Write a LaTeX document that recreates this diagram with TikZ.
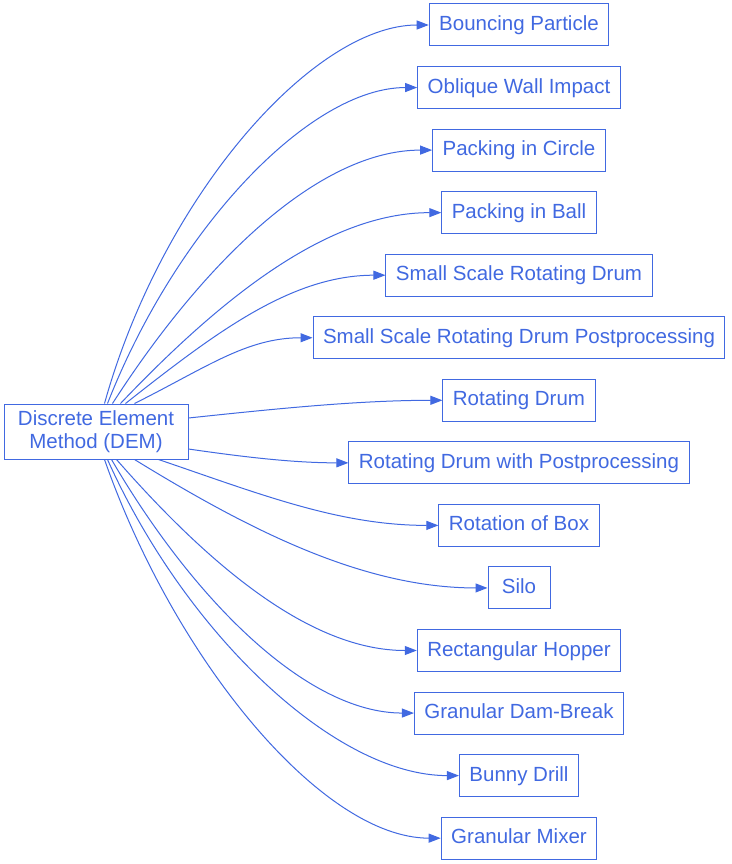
\documentclass[tikz,border=0pt]{standalone}
\usepackage{fontspec}
\setmainfont{Liberation Sans}
\usetikzlibrary{arrows.meta}
\definecolor{rb}{RGB}{65,105,225}
\begin{document}
\begin{tikzpicture}[x=1pt,y=-1pt,
  box/.style={draw=rb, text=rb, line width=1pt, rectangle, inner xsep=10pt, inner ysep=0pt,
    minimum height=42pt, minimum width=62pt, text height=15pt, text depth=4pt,
    font=\fontsize{20.5}{22.5}\selectfont},
  srcbox/.style={draw=rb, text=rb, line width=1pt, rectangle, inner sep=0pt,
    minimum width=184pt, minimum height=55pt, align=center,
    font=\fontsize{20.5}{22.5}\selectfont},
  edge/.style={draw=rb, line width=1pt, -{Triangle[length=12pt,width=9pt]}}]
\fill[white] (0,0) rectangle (731,864);
\useasboundingbox (0,0) rectangle (731,864);

\node[srcbox] (dem) at (96,431.5) {Discrete Element\\Method (DEM)};

\node[box] (t1)  at (519,25)     {Bouncing Particle};
\node[box] (t2)  at (519,87.55)  {Oblique Wall Impact};
\node[box] (t3)  at (519,150.1)  {Packing in Circle};
\node[box] (t4)  at (519,212.65) {Packing in Ball};
\node[box] (t5)  at (519,275.2)  {Small Scale Rotating Drum};
\node[box] (t6)  at (519,337.75) {Small Scale Rotating Drum Postprocessing};
\node[box] (t7)  at (519,400.3)  {Rotating Drum};
\node[box] (t8)  at (519,462.85) {Rotating Drum with Postprocessing};
\node[box] (t9)  at (519,525.4)  {Rotation of Box};
\node[box] (t10) at (519,587.95) {Silo};
\node[box] (t11) at (519,650.5)  {Rectangular Hopper};
\node[box] (t12) at (519,713.05) {Granular Dam-Break};
\node[box] (t13) at (519,775.6)  {Bunny Drill};
\node[box] (t14) at (519,838.15) {Granular Mixer};

% start points on the source border
\coordinate (s1)  at ([xshift=101pt]dem.north west);
\coordinate (s2)  at ([xshift=104pt]dem.north west);
\coordinate (s3)  at ([xshift=109pt]dem.north west);
\coordinate (s4)  at ([xshift=117pt]dem.north west);
\coordinate (s5)  at ([xshift=122pt]dem.north west);
\coordinate (s6)  at ([xshift=131pt]dem.north west);
\coordinate (s7)  at ([yshift=13.5pt]dem.east);
\coordinate (s8)  at ([yshift=-17.5pt]dem.east);
\coordinate (s9)  at ([xshift=155pt]dem.south west);
\coordinate (s10) at ([xshift=131pt]dem.south west);
\coordinate (s11) at ([xshift=113pt]dem.south west);
\coordinate (s12) at ([xshift=108pt]dem.south west);
\coordinate (s13) at ([xshift=104pt]dem.south west);
\coordinate (s14) at ([xshift=101pt]dem.south west);

\draw[edge] (s1)  .. controls +(58,-208) and +(-115,0) .. (t1.west);
\draw[edge] (s2)  .. controls +(70,-178) and +(-106,0) .. (t2.west);
\draw[edge] (s3)  .. controls +(90,-140) and +(-114,0) .. (t3.west);
\draw[edge] (s4)  .. controls +(100,-105) and +(-114,0) .. (t4.west);
\draw[edge] (s5)  .. controls +(90,-71) and +(-94,0) .. (t5.west);
\draw[edge] (s6)  .. controls +(72,-36) and +(-66,0) .. (t6.west);
\draw[edge] (s7)  .. controls +(85,-9) and +(-85,0) .. (t7.west);
\draw[edge] (s8)  .. controls +(55,8) and +(-55,0) .. (t8.west);
\draw[edge] (s9)  .. controls +(100,34) and +(-100,0) .. (t9.west);
\draw[edge] (s10) .. controls +(114,70) and +(-125,0) .. (t10.west);
\draw[edge] (s11) .. controls +(92,105) and +(-107,0) .. (t11.west);
\draw[edge] (s12) .. controls +(81,139) and +(-108,0) .. (t12.west);
\draw[edge] (s13) .. controls +(78,174) and +(-124,0) .. (t13.west);
\draw[edge] (s14) .. controls +(70,200) and +(-119,0) .. (t14.west);
\end{tikzpicture}
\end{document}
